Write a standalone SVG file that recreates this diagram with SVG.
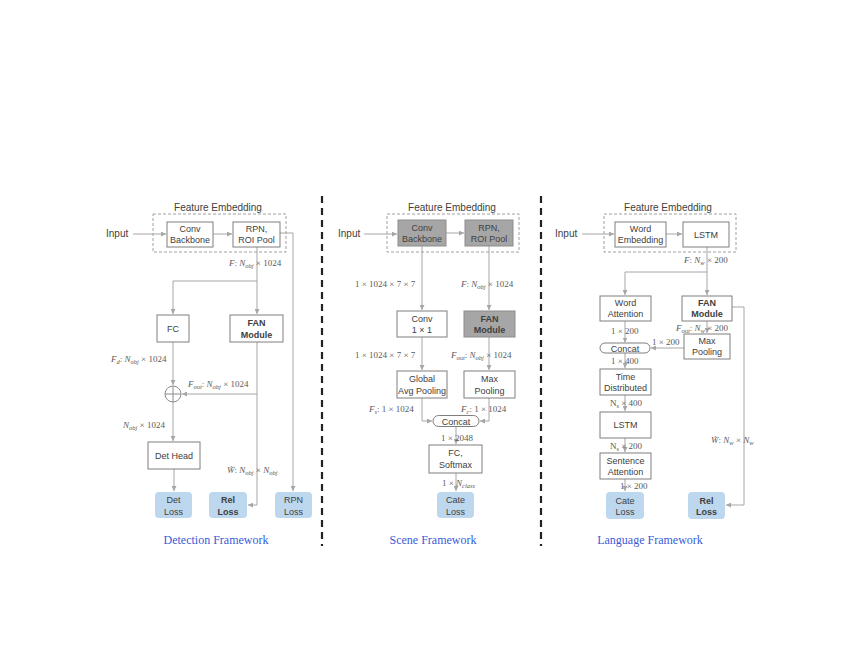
<svg xmlns="http://www.w3.org/2000/svg" width="862" height="666" viewBox="0 0 862 666">
<style>
.box{fill:#fff;stroke:#7f7f7f;stroke-width:1}
.gbox{fill:#a6a6a6;stroke:#8c8c8c;stroke-width:1}
.loss{fill:#bdd7ee;stroke:none}
.t{font-family:"Liberation Sans","Open Sans",sans-serif;font-size:9px;fill:#404040;text-anchor:middle}
.b{font-weight:bold}
.fe{font-family:"Liberation Sans","Open Sans",sans-serif;font-size:10px;fill:#404040;text-anchor:middle}
.in{font-family:"Liberation Sans","Open Sans",sans-serif;font-size:10px;fill:#404040}
.lbl{font-family:"Liberation Serif","DejaVu Serif",serif;font-size:9px;fill:#595959}
.it{font-style:italic}
.s{font-size:6.5px}
.title{font-family:"Liberation Serif","DejaVu Serif",serif;font-size:12px;fill:#3a5bd6;text-anchor:middle}
.conn{fill:none;stroke:#a6a6a6;stroke-width:1}
.dash{fill:none;stroke:#a0a0a0;stroke-width:1;stroke-dasharray:3 2}
.sep{stroke:#222;stroke-width:2.2;stroke-dasharray:7 5}
</style>
<defs>
<marker id="ah" viewBox="0 0 6 6" refX="6" refY="3" markerWidth="5" markerHeight="5" markerUnits="userSpaceOnUse" orient="auto">
<path d="M0,0 L6,3 L0,6 z" fill="#a6a6a6"/>
</marker>
</defs>

<g id="separators">
<line class="sep" x1="322" y1="196" x2="322" y2="546"/>
<line class="sep" x1="541" y1="196" x2="541" y2="546"/>
</g>

<!-- ============ Detection ============ -->
<g id="det-connectors">
<path class="conn" d="M133,234 H166" marker-end="url(#ah)"/>
<path class="conn" d="M213,234 H232" marker-end="url(#ah)"/>
<path class="conn" d="M280,233 H293 V491" marker-end="url(#ah)"/>
<path class="conn" d="M257,247 V314" marker-end="url(#ah)"/>
<path class="conn" d="M257,281 H173 V314" marker-end="url(#ah)"/>
<path class="conn" d="M173,342 V385" marker-end="url(#ah)"/>
<path class="conn" d="M257,342 V505 H248" marker-end="url(#ah)"/>
<path class="conn" d="M257,394 H182" marker-end="url(#ah)"/>
<path class="conn" d="M173,402 V441" marker-end="url(#ah)"/>
<path class="conn" d="M174,469 V491" marker-end="url(#ah)"/>
</g>
<g id="det-labels">
<text class="lbl" x="229" y="266"><tspan class="it">F</tspan>: <tspan class="it">N</tspan><tspan class="it s" dy="1.5">obj</tspan><tspan dy="-1.5"> × 1024</tspan></text>
<text class="lbl" x="111" y="362"><tspan class="it">F</tspan><tspan class="it s" dy="1.5">d</tspan><tspan dy="-1.5">: </tspan><tspan class="it">N</tspan><tspan class="it s" dy="1.5">obj</tspan><tspan dy="-1.5"> × 1024</tspan></text>
<text class="lbl" x="188" y="387"><tspan class="it">F</tspan><tspan class="it s" dy="1.5">out</tspan><tspan dy="-1.5">: </tspan><tspan class="it">N</tspan><tspan class="it s" dy="1.5">obj</tspan><tspan dy="-1.5"> × 1024</tspan></text>
<text class="lbl" x="123" y="428"><tspan class="it">N</tspan><tspan class="it s" dy="1.5">obj</tspan><tspan dy="-1.5"> × 1024</tspan></text>
<text class="lbl" x="227" y="473"><tspan class="it">W̃</tspan>: <tspan class="it">N</tspan><tspan class="it s" dy="1.5">obj</tspan><tspan dy="-1.5"> × </tspan><tspan class="it">N</tspan><tspan class="it s" dy="1.5">obj</tspan></text>
</g>
<g id="det-fe">
<text class="fe" x="218" y="211">Feature Embedding</text>
<rect class="dash" x="153" y="214" width="133" height="38"/>
<text class="in" x="106" y="237">Input</text>
</g>
<g id="det-conv">
<rect class="box" x="167" y="222" width="46" height="25"/>
<text class="t" x="190" y="232">Conv</text><text class="t" x="190" y="243">Backbone</text>
</g>
<g id="det-rpn">
<rect class="box" x="233" y="222" width="47" height="25"/>
<text class="t" x="256.5" y="232">RPN,</text><text class="t" x="256.5" y="243">ROI Pool</text>
</g>
<g id="det-fc">
<rect class="box" x="157" y="315" width="32" height="27"/>
<text class="t" x="173" y="331.5">FC</text>
</g>
<g id="det-fan">
<rect class="box" x="230" y="315" width="53" height="27"/>
<text class="t b" x="256.5" y="326">FAN</text><text class="t b" x="256.5" y="337.5">Module</text>
</g>
<g id="det-sum">
<circle cx="173" cy="394" r="8" fill="#fff" stroke="#8c8c8c" stroke-width="1"/>
<path d="M165,394 H181 M173,386 V402" stroke="#8c8c8c" stroke-width="1" fill="none"/>
</g>
<g id="det-head">
<rect class="box" x="148" y="442" width="52" height="27"/>
<text class="t" x="174" y="458.5">Det Head</text>
</g>
<g id="det-detloss">
<rect class="loss" x="155" y="492" width="37" height="26" rx="4"/>
<text class="t" x="173.5" y="503">Det</text><text class="t" x="173.5" y="514.5">Loss</text>
</g>
<g id="det-relloss">
<rect class="loss" x="209" y="492" width="38" height="26" rx="4"/>
<text class="t b" x="228" y="503">Rel</text><text class="t b" x="228" y="514.5">Loss</text>
</g>
<g id="det-rpnloss">
<rect class="loss" x="275" y="492" width="37" height="26" rx="4"/>
<text class="t" x="293.5" y="503">RPN</text><text class="t" x="293.5" y="514.5">Loss</text>
</g>
<text class="title" x="216" y="544">Detection Framework</text>

<!-- ============ Scene ============ -->
<g id="scene-connectors">
<path class="conn" d="M364,234 H397" marker-end="url(#ah)"/>
<path class="conn" d="M446,233 H464" marker-end="url(#ah)"/>
<path class="conn" d="M422,246 V310" marker-end="url(#ah)"/>
<path class="conn" d="M489,246 V310" marker-end="url(#ah)"/>
<path class="conn" d="M422,337 V370" marker-end="url(#ah)"/>
<path class="conn" d="M489,337 V370" marker-end="url(#ah)"/>
<path class="conn" d="M422,398 V421 H432" marker-end="url(#ah)"/>
<path class="conn" d="M489,398 V421 H480" marker-end="url(#ah)"/>
<path class="conn" d="M456,427 V444" marker-end="url(#ah)"/>
<path class="conn" d="M456,473 V491" marker-end="url(#ah)"/>
</g>
<g id="scene-labels">
<text class="lbl" x="355" y="287">1 × 1024 × 7 × 7</text>
<text class="lbl" x="461" y="287"><tspan class="it">F</tspan>: <tspan class="it">N</tspan><tspan class="it s" dy="1.5">obj</tspan><tspan dy="-1.5"> × 1024</tspan></text>
<text class="lbl" x="355" y="358">1 × 1024 × 7 × 7</text>
<text class="lbl" x="451" y="358"><tspan class="it">F</tspan><tspan class="it s" dy="1.5">out</tspan><tspan dy="-1.5">: </tspan><tspan class="it">N</tspan><tspan class="it s" dy="1.5">obj</tspan><tspan dy="-1.5"> × 1024</tspan></text>
<text class="lbl" x="369" y="412"><tspan class="it">F</tspan><tspan class="it s" dy="1.5">s</tspan><tspan dy="-1.5">: 1 × 1024</tspan></text>
<text class="lbl" x="461" y="412"><tspan class="it">F</tspan><tspan class="it s" dy="1.5">c</tspan><tspan dy="-1.5">: 1 × 1024</tspan></text>
<text class="lbl" x="441" y="441">1 × 2048</text>
<text class="lbl" x="442" y="486">1 × <tspan class="it">N</tspan><tspan class="it s" dy="1.5">class</tspan></text>
</g>
<g id="scene-fe">
<text class="fe" x="452" y="211">Feature Embedding</text>
<rect class="dash" x="387" y="214" width="132" height="38"/>
<text class="in" x="338" y="237">Input</text>
</g>
<g id="scene-conv">
<rect class="gbox" x="398" y="220" width="48" height="26"/>
<text class="t" x="422" y="230.5">Conv</text><text class="t" x="422" y="242">Backbone</text>
</g>
<g id="scene-rpn">
<rect class="gbox" x="465" y="220" width="48" height="26"/>
<text class="t" x="489" y="230.5">RPN,</text><text class="t" x="489" y="242">ROI Pool</text>
</g>
<g id="scene-conv11">
<rect class="box" x="397" y="311" width="50" height="26"/>
<text class="t" x="422" y="321.5">Conv</text><text class="t" x="422" y="333">1 × 1</text>
</g>
<g id="scene-fan">
<rect class="gbox" x="464" y="311" width="51" height="26"/>
<text class="t b" x="489.5" y="321.5">FAN</text><text class="t b" x="489.5" y="333">Module</text>
</g>
<g id="scene-gap">
<rect class="box" x="397" y="371" width="50" height="27"/>
<text class="t" x="422" y="381.5">Global</text><text class="t" x="422" y="393.5">Avg Pooling</text>
</g>
<g id="scene-maxpool">
<rect class="box" x="464" y="371" width="51" height="27"/>
<text class="t" x="489.5" y="381.5">Max</text><text class="t" x="489.5" y="393.5">Pooling</text>
</g>
<g id="scene-concat">
<rect class="box" x="433" y="415.5" width="46" height="11" rx="5.5"/>
<text class="t" x="456" y="424.5">Concat</text>
</g>
<g id="scene-fc">
<rect class="box" x="429" y="445" width="53" height="28"/>
<text class="t" x="455.5" y="456">FC,</text><text class="t" x="455.5" y="468">Softmax</text>
</g>
<g id="scene-cateloss">
<rect class="loss" x="437" y="492" width="37" height="26" rx="4"/>
<text class="t" x="455.5" y="503">Cate</text><text class="t" x="455.5" y="514.5">Loss</text>
</g>
<text class="title" x="433" y="544">Scene Framework</text>

<!-- ============ Language ============ -->
<g id="lang-connectors">
<path class="conn" d="M582,234 H614" marker-end="url(#ah)"/>
<path class="conn" d="M666,234 H682" marker-end="url(#ah)"/>
<path class="conn" d="M707,247 V295" marker-end="url(#ah)"/>
<path class="conn" d="M707,272 H625 V295" marker-end="url(#ah)"/>
<path class="conn" d="M732,307 H744 V505 H726" marker-end="url(#ah)"/>
<path class="conn" d="M625,321 V342.5" marker-end="url(#ah)"/>
<path class="conn" d="M707,321 V333" marker-end="url(#ah)"/>
<path class="conn" d="M684,348 H651" marker-end="url(#ah)"/>
<path class="conn" d="M625,353 V368" marker-end="url(#ah)"/>
<path class="conn" d="M625,395 V411" marker-end="url(#ah)"/>
<path class="conn" d="M625,438 V452" marker-end="url(#ah)"/>
<path class="conn" d="M625,479 V491" marker-end="url(#ah)"/>
</g>
<g id="lang-labels">
<text class="lbl" x="684" y="263"><tspan class="it">F</tspan>: <tspan class="it">N</tspan><tspan class="it s" dy="1.5">w</tspan><tspan dy="-1.5"> × 200</tspan></text>
<text class="lbl" x="611" y="334">1 × 200</text>
<text class="lbl" x="676" y="331"><tspan class="it">F</tspan><tspan class="it s" dy="1.5">out</tspan><tspan dy="-1.5">: </tspan><tspan class="it">N</tspan><tspan class="it s" dy="1.5">w</tspan><tspan dy="-1.5"> × 200</tspan></text>
<text class="lbl" x="652" y="345">1 × 200</text>
<text class="lbl" x="611" y="364">1 × 400</text>
<text class="lbl" x="610" y="406">N<tspan class="s" dy="1.5">s</tspan><tspan dy="-1.5"> × 400</tspan></text>
<text class="lbl" x="610" y="449">N<tspan class="s" dy="1.5">s</tspan><tspan dy="-1.5"> × 200</tspan></text>
<text class="lbl" x="620" y="489">1 × 200</text>
<text class="lbl" x="711" y="443"><tspan class="it">W̃</tspan>: <tspan class="it">N</tspan><tspan class="it s" dy="1.5">w</tspan><tspan dy="-1.5"> × </tspan><tspan class="it">N</tspan><tspan class="it s" dy="1.5">w</tspan></text>
</g>
<g id="lang-fe">
<text class="fe" x="668" y="211">Feature Embedding</text>
<rect class="dash" x="604" y="214" width="132" height="38"/>
<text class="in" x="555" y="237">Input</text>
</g>
<g id="lang-wemb">
<rect class="box" x="615" y="222" width="51" height="25"/>
<text class="t" x="640.5" y="232">Word</text><text class="t" x="640.5" y="243">Embedding</text>
</g>
<g id="lang-lstm1">
<rect class="box" x="683" y="222" width="46" height="25"/>
<text class="t" x="706" y="237.5">LSTM</text>
</g>
<g id="lang-watt">
<rect class="box" x="600" y="296" width="51" height="25"/>
<text class="t" x="625.5" y="306">Word</text><text class="t" x="625.5" y="317">Attention</text>
</g>
<g id="lang-fan">
<rect class="box" x="682" y="296" width="50" height="25"/>
<text class="t b" x="707" y="306">FAN</text><text class="t b" x="707" y="317">Module</text>
</g>
<g id="lang-maxpool">
<rect class="box" x="684" y="334" width="46" height="25"/>
<text class="t" x="707" y="344">Max</text><text class="t" x="707" y="355">Pooling</text>
</g>
<g id="lang-concat">
<rect class="box" x="600" y="343" width="50" height="10" rx="5"/>
<text class="t" x="625" y="351.5">Concat</text>
</g>
<g id="lang-td">
<rect class="box" x="600" y="369" width="51" height="26"/>
<text class="t" x="625.5" y="379.5">Time</text><text class="t" x="625.5" y="391">Distributed</text>
</g>
<g id="lang-lstm2">
<rect class="box" x="600" y="412" width="51" height="26"/>
<text class="t" x="625.5" y="428">LSTM</text>
</g>
<g id="lang-satt">
<rect class="box" x="600" y="453" width="51" height="26"/>
<text class="t" x="625.5" y="463.5">Sentence</text><text class="t" x="625.5" y="475">Attention</text>
</g>
<g id="lang-cateloss">
<rect class="loss" x="606" y="492" width="38" height="27" rx="4"/>
<text class="t" x="625" y="503.5">Cate</text><text class="t" x="625" y="515">Loss</text>
</g>
<g id="lang-relloss">
<rect class="loss" x="688" y="492" width="37" height="27" rx="4"/>
<text class="t b" x="706.5" y="503.5">Rel</text><text class="t b" x="706.5" y="515">Loss</text>
</g>
<text class="title" x="650" y="544">Language Framework</text>
</svg>
